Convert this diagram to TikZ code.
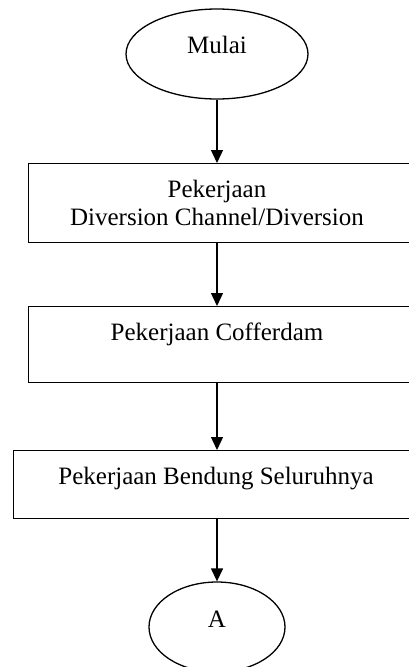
\documentclass[tikz,border=0pt]{standalone}
\usepackage{fontspec}
\setmainfont{Liberation Serif}
\usetikzlibrary{shapes.geometric,arrows.meta}
\begin{document}
\begin{tikzpicture}[x=1pt,y=-1pt,
  line width=1.3pt,
  oval/.style={draw,ellipse,inner sep=0pt},
  stepbox/.style={draw,rectangle,inner sep=0pt,anchor=north west},
  lbl/.style={inner sep=0pt,anchor=base,font=\fontsize{25}{29}\selectfont},
  flow/.style={-{Triangle[length=13pt,width=12pt]}}]
\useasboundingbox (0,0) rectangle (409,667);
\clip (0,0) rectangle (409,667);
\fill[white] (0,0) rectangle (409,667);
% start ellipse
\node[oval,minimum width=182pt,minimum height=90pt] (start) at (217,54) {};
\node[lbl] (tstart) at (217,53) {Mulai};
% boxes
\node[stepbox,minimum width=382pt,minimum height=79pt] (b1) at (28,163) {};
\node[lbl] (t1a) at (217,197) {Pekerjaan};
\node[lbl] (t1b) at (217,225) {Diversion Channel/Diversion};
\node[stepbox,minimum width=382pt,minimum height=76pt] (b2) at (28,306) {};
\node[lbl] (t2) at (217,340) {Pekerjaan Cofferdam};
\node[stepbox,minimum width=405pt,minimum height=68pt] (b3) at (13,450) {};
\node[lbl] (t3) at (216,484) {Pekerjaan Bendung Seluruhnya};
% end ellipse
\node[oval,minimum width=136pt,minimum height=90pt] (endA) at (217,627) {};
\node[lbl] (tA) at (217,627) {A};
% connectors
\draw[flow] (start.south) -- (start.south |- b1.north);
\draw[flow] (start.south |- b1.south) -- (start.south |- b2.north);
\draw[flow] (start.south |- b2.south) -- (start.south |- b3.north);
\draw[flow] (start.south |- b3.south) -- (endA.north);
\end{tikzpicture}
\end{document}
